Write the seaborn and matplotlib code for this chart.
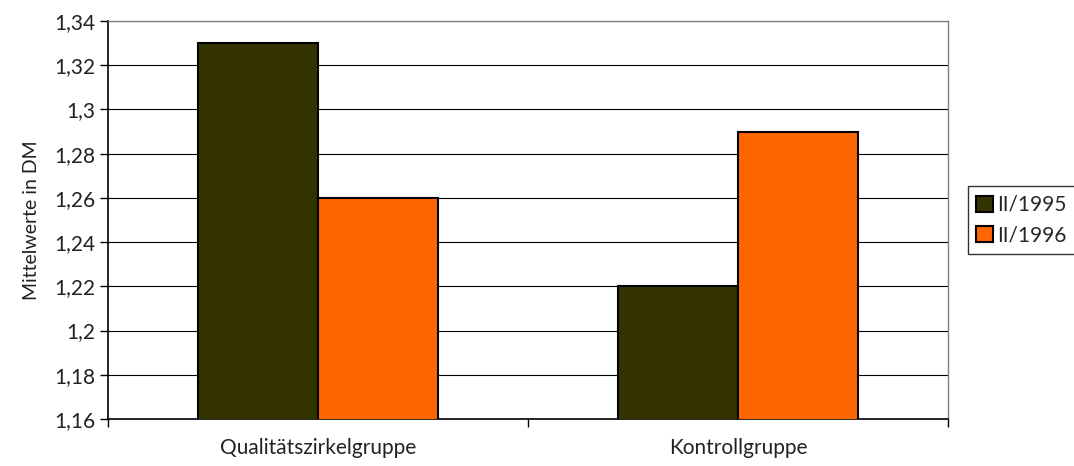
import matplotlib
matplotlib.use("Agg")
import matplotlib.pyplot as plt
import seaborn as sns
import pandas as pd
from matplotlib.ticker import FuncFormatter, FixedLocator

groups = ["Qualitätszirkelgruppe", "Kontrollgruppe"]
periods = ["II/1995", "II/1996"]
values_1995 = [1.33, 1.22]
values_1996 = [1.26, 1.29]
y_ticks = [1.16, 1.18, 1.2, 1.22, 1.24, 1.26, 1.28, 1.3, 1.32, 1.34]

df = pd.DataFrame({
    "gruppe": groups * 2,
    "periode": [periods[0]] * 2 + [periods[1]] * 2,
    "wert": values_1995 + values_1996,
})

sns.set_theme(style="white")
plt.rcParams["font.family"] = ["Lato", "DejaVu Sans"]

fig = plt.figure(figsize=(10.74, 4.66), dpi=100)
ax = fig.add_axes([108 / 1074, 1 - 419 / 466, 840 / 1074, 398 / 466])

sns.barplot(data=df, x="gruppe", y="wert", hue="periode", order=groups,
            hue_order=periods, palette=["#333300", "#FF6600"], width=0.571,
            edgecolor="black", linewidth=1.5, saturation=1, ax=ax, zorder=3)

ax.set_ylim(1.16, 1.34)
ax.set_xlim(-0.5, 1.5)
ax.set_yticks(y_ticks)
ax.yaxis.set_major_formatter(FuncFormatter(lambda v, p: f"{v:g}".replace(".", ",")))
for t in y_ticks[1:]:
    ax.axhline(t, color="black", linewidth=0.8, zorder=1)

ax.xaxis.set_major_locator(FixedLocator([0, 1]))
ax.set_xticklabels(groups)
ax.xaxis.set_minor_locator(FixedLocator([-0.5, 0.5, 1.5]))
ax.tick_params(axis="x", which="major", bottom=True, length=0, pad=14,
               labelsize=15, labelcolor="#222222")
ax.tick_params(axis="x", which="minor", bottom=True, length=6, width=1,
               color="black", direction="out")
ax.tick_params(axis="y", which="major", left=True, length=6, width=1, color="black",
               direction="out", labelsize=15, labelcolor="#222222", pad=3)

ax.set_xlabel("")
ax.set_ylabel("Mittelwerte in DM", fontsize=14, labelpad=10, color="#222222")

for side in ["top", "right"]:
    ax.spines[side].set_color("#808080")
    ax.spines[side].set_linewidth(1)
for side in ["left", "bottom"]:
    ax.spines[side].set_color("black")
    ax.spines[side].set_linewidth(1.2)

leg = ax.legend(loc="center left", bbox_to_anchor=(860 / 840, 0.5),
                frameon=True, fancybox=False, fontsize=15, handlelength=0.8,
                handleheight=0.8, handletextpad=0.2, borderpad=0.4, labelspacing=0.5,
                borderaxespad=0)
leg.get_frame().set_edgecolor("black")
leg.get_frame().set_linewidth(1)

fig.savefig("out.png", dpi=100)
